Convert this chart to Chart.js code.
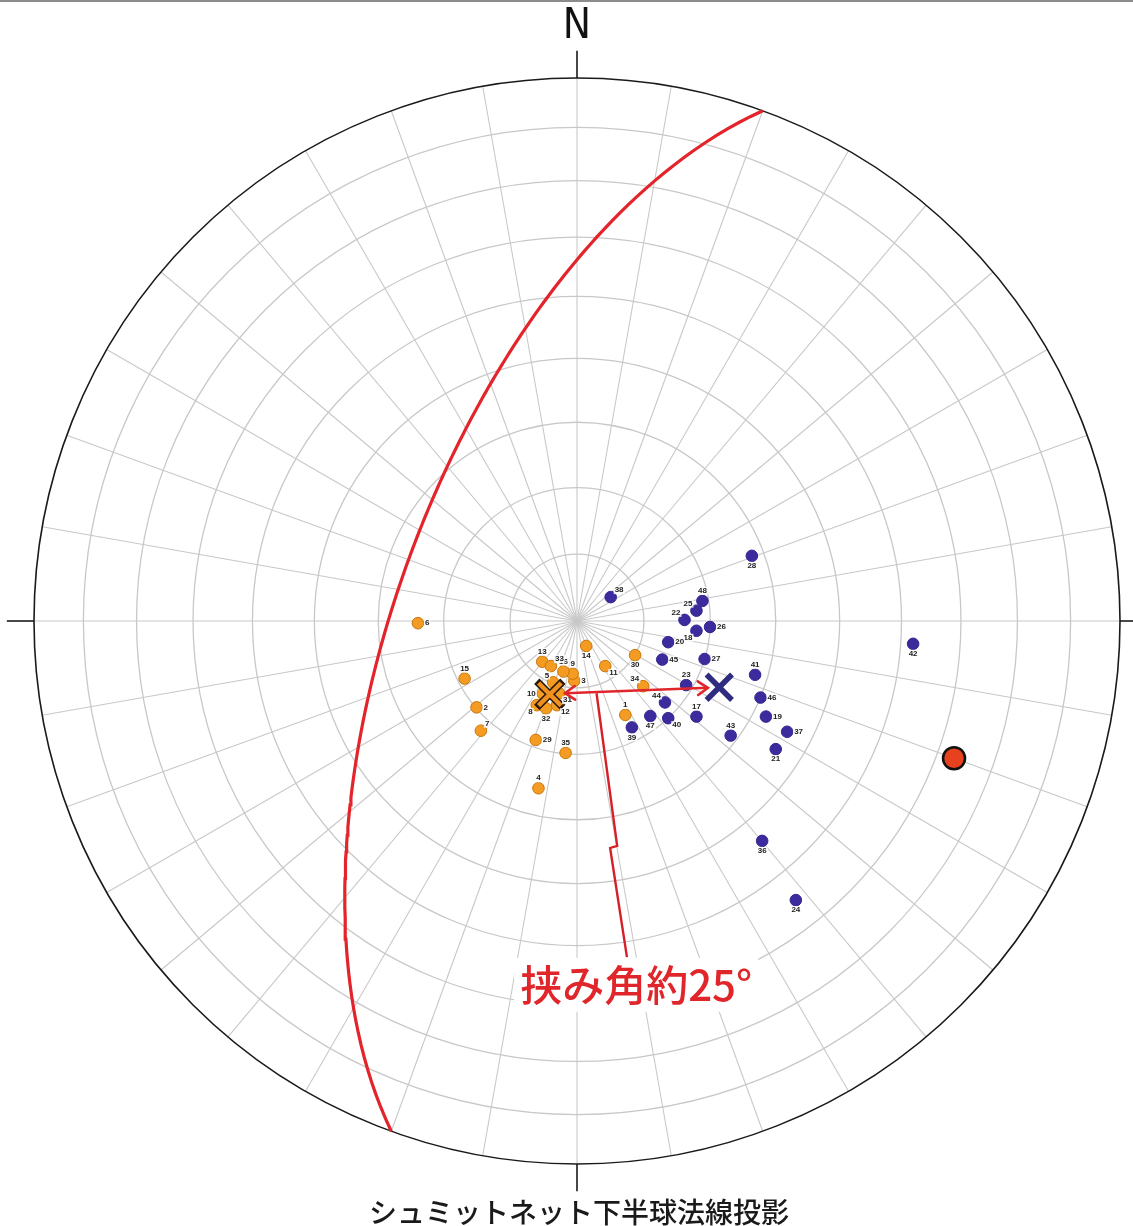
<!DOCTYPE html>
<html lang="ja">
<head>
<meta charset="utf-8">
<title>シュミットネット下半球法線投影</title>
<script src="https://cdn.jsdelivr.net/npm/chart.js@4.4.1/dist/chart.umd.min.js"></script>
<style>
  html, body { margin: 0; padding: 0; background: #fff; }
  #wrap { width: 1133px; height: 1226px; }
</style>
</head>
<body>
<div id="wrap"><canvas id="net" width="1133" height="1226"></canvas></div>
<script>
// 法線（極）の投影位置  x = 東, y = 北 （ネット半径 = 1）
const orangeIds = [1, 2, 3, 4, 5, 6, 7, 8, 9, 10, 11, 12, 13, 14, 15, 16, 29, 30, 31, 32, 33, 34, 35];
const orangeX = [0.089, -0.185, -0.005, -0.071, -0.044, -0.293, -0.177, -0.074, -0.008, -0.063, 0.052, -0.037,
                 -0.064, 0.017, -0.207, -0.025, -0.076, 0.107, -0.033, -0.057, -0.048, 0.122, -0.021];
const orangeY = [-0.173, -0.159, -0.110, -0.308, -0.113, -0.004, -0.202, -0.155, -0.097, -0.134, -0.083, -0.155,
                 -0.075, -0.046, -0.106, -0.093, -0.219, -0.063, -0.133, -0.161, -0.083, -0.120, -0.243];

const blueIds = [17, 18, 19, 20, 21, 22, 23, 24, 25, 26, 27, 28, 36, 37, 38, 39, 40, 41, 42, 43, 44, 45, 46, 47, 48];
const blueX = [0.220, 0.220, 0.348, 0.168, 0.366, 0.198, 0.201, 0.403, 0.220, 0.245, 0.235, 0.322, 0.341,
               0.387, 0.062, 0.101, 0.168, 0.328, 0.619, 0.283, 0.162, 0.157, 0.338, 0.135, 0.231];
const blueY = [-0.176, -0.018, -0.176, -0.039, -0.236, 0.002, -0.118, -0.514, 0.019, -0.011, -0.070, 0.120, -0.405,
               -0.204, 0.044, -0.196, -0.179, -0.099, -0.042, -0.211, -0.150, -0.071, -0.141, -0.175, 0.037];

// 平均方向（×印）
const orangeMean = [-0.050, -0.135];
const blueMean = [0.262, -0.122];

// 面の姿勢（傾斜方位 / 傾斜角）
const planeDipDir = 290;
const planeDip = 63;

// 挟み角の矢印と引出線
const arrowX = [-0.022, 0.241];
const arrowY = [-0.133, -0.123];
const leaderX = [0.036, 0.074, 0.061, 0.092];
const leaderY = [-0.133, -0.414, -0.418, -0.619];
const angleText = '挟み角約25°';
const anglePos = [0.109, -0.670];

const ringAngles = [10, 20, 30, 40, 50, 60, 70, 80];
const titleText = 'シュミットネット下半球法線投影';

// ラベルの置き場所（点の上下左右）
const orangeLabelSide = ['t', 'r', 'r', 't', 'tl', 'r', 'tr', 'bl', 't', 'l', 'br', 'br', 't', 'b', 't', 't',
                         'r', 'b', 'br', 'b', 'tr', 'tl', 't'];
const blueLabelSide = ['t', 'bl', 'r', 'r', 'b', 'tl', 't', 'b', 'tl', 'r', 'r', 'b', 'b', 'r', 'tr', 'b', 'br',
                       't', 'b', 't', 'tl', 'r', 'r', 'b', 't'];

const RAD = Math.PI / 180;

// 等積投影（下半球）
function project(trend, plunge) {
    const r = Math.SQRT2 * Math.sin((90 - plunge) * RAD / 2);
    return { x: r * Math.sin(trend * RAD), y: r * Math.cos(trend * RAD) };
}

function greatCircle(dipDir, dip) {
    const pts = [];
    for (let b = -90; b <= 90; b++) {
        const app = Math.atan(Math.tan(dip * RAD) * Math.cos(b * RAD)) / RAD;
        pts.push(project(dipDir + b, app));
    }
    return pts;
}

const toPoints = (xs, ys) => xs.map((v, i) => ({ x: v, y: ys[i] }));
const pole = project(planeDipDir - 180, 90 - planeDip);

// ネットの格子
const netGrid = {
    id: 'netGrid',
    beforeDatasetsDraw(chart) {
        const { ctx, scales: { x, y } } = chart;
        const cx = x.getPixelForValue(0), cy = y.getPixelForValue(0);
        const unit = x.getPixelForValue(1) - cx;
        ctx.save();
        ctx.strokeStyle = '#c8c8c8';
        ctx.lineWidth = 1.3;
        ringAngles.forEach(a => {
            ctx.beginPath();
            ctx.arc(cx, cy, Math.SQRT2 * Math.sin(a * RAD / 2) * unit, 0, 2 * Math.PI);
            ctx.stroke();
        });
        ctx.lineWidth = 1.1;
        for (let az = 0; az < 360; az += 10) {
            ctx.beginPath();
            ctx.moveTo(cx, cy);
            ctx.lineTo(cx + Math.sin(az * RAD) * unit, cy - Math.cos(az * RAD) * unit);
            ctx.stroke();
        }
        // 外周と方位の目盛
        ctx.strokeStyle = '#1a1a1a';
        ctx.lineWidth = 1.6;
        ctx.beginPath();
        ctx.arc(cx, cy, unit, 0, 2 * Math.PI);
        ctx.stroke();
        [0, 90, 180, 270].forEach(az => {
            ctx.beginPath();
            ctx.moveTo(cx + Math.sin(az * RAD) * unit, cy - Math.cos(az * RAD) * unit);
            ctx.lineTo(cx + Math.sin(az * RAD) * unit * 1.05, cy - Math.cos(az * RAD) * unit * 1.05);
            ctx.stroke();
        });
        ctx.fillStyle = '#111';
        ctx.font = '42px "Liberation Sans Narrow", "DejaVu Sans Condensed", sans-serif';
        ctx.textAlign = 'center';
        ctx.textBaseline = 'alphabetic';
        ctx.fillText('N', cx, y.getPixelForValue(1) - 40);
        ctx.restore();
    }
};

// 点番号・矢じり・注記
const overlay = {
    id: 'overlay',
    afterDatasetsDraw(chart) {
        const { ctx, scales: { x, y } } = chart;
        ctx.save();
        ctx.font = 'bold 8px "Liberation Sans", Arial, sans-serif';
        ctx.textBaseline = 'middle';
        const drawLabels = (ids, xs, ys, sides) => {
            ids.forEach((id, i) => {
                const px = x.getPixelForValue(xs[i]), py = y.getPixelForValue(ys[i]);
                const s = sides[i];
                let dx = 0, dy = 0, align = 'center';
                if (s === 'r') { dx = 7; align = 'left'; }
                if (s === 'l') { dx = -7; align = 'right'; }
                if (s === 't') dy = -10;
                if (s === 'b') dy = 10;
                if (s === 'tr') { dx = 4; dy = -7; align = 'left'; }
                if (s === 'tl') { dx = -4; dy = -7; align = 'right'; }
                if (s === 'br') { dx = 4; dy = 7; align = 'left'; }
                if (s === 'bl') { dx = -4; dy = 7; align = 'right'; }
                const t = String(id);
                const w = ctx.measureText(t).width;
                let lx = px + dx;
                if (align === 'center') lx -= w / 2;
                if (align === 'right') lx -= w;
                ctx.fillStyle = 'rgba(255,255,255,0.85)';
                ctx.fillRect(lx - 1, py + dy - 4, w + 2, 8);
                ctx.fillStyle = '#222';
                ctx.textAlign = 'left';
                ctx.fillText(t, lx, py + dy);
            });
        };
        drawLabels(orangeIds, orangeX, orangeY, orangeLabelSide);
        drawLabels(blueIds, blueX, blueY, blueLabelSide);

        // 矢じり（両端）
        const p0 = { x: x.getPixelForValue(arrowX[0]), y: y.getPixelForValue(arrowY[0]) };
        const p1 = { x: x.getPixelForValue(arrowX[1]), y: y.getPixelForValue(arrowY[1]) };
        const head = (tip, from) => {
            const ang = Math.atan2(tip.y - from.y, tip.x - from.x);
            ctx.beginPath();
            ctx.moveTo(tip.x - 12 * Math.cos(ang - 0.6), tip.y - 12 * Math.sin(ang - 0.6));
            ctx.lineTo(tip.x, tip.y);
            ctx.lineTo(tip.x - 12 * Math.cos(ang + 0.6), tip.y - 12 * Math.sin(ang + 0.6));
            ctx.stroke();
        };
        ctx.strokeStyle = '#e0262b';
        ctx.lineWidth = 2.6;
        ctx.lineCap = 'round';
        ctx.lineJoin = 'miter';
        head(p1, p0);
        head(p0, p1);

        // 挟み角の注記
        const ax = x.getPixelForValue(anglePos[0]), ay = y.getPixelForValue(anglePos[1]);
        ctx.fillStyle = '#fff';
        ctx.fillRect(ax - 122, ay - 27, 244, 54);
        ctx.fillStyle = '#e0262b';
        ctx.font = '500 42px "Noto Sans CJK JP", sans-serif';
        ctx.textAlign = 'center';
        ctx.textBaseline = 'middle';
        ctx.fillText(angleText, ax, ay);
        ctx.restore();
    },
    afterDraw(chart) {
        const { ctx, scales: { x, y } } = chart;
        ctx.save();
        ctx.fillStyle = '#8c8c8c';
        ctx.fillRect(0, 0, chart.width, 2);
        ctx.fillStyle = '#1a1a1a';
        ctx.font = '500 28px "Noto Sans CJK JP", sans-serif';
        ctx.textAlign = 'center';
        ctx.textBaseline = 'middle';
        ctx.fillText(titleText, x.getPixelForValue(0) + 2, y.getPixelForValue(-1) + 48);
        ctx.restore();
    }
};

new Chart(document.getElementById('net'), {
    type: 'scatter',
    data: {
        datasets: [
            {
                label: '矢印',
                data: toPoints(arrowX, arrowY),
                showLine: true, pointRadius: 0,
                borderColor: '#e0262b', borderWidth: 2.6,
                order: 1
            },
            {
                label: '引出線',
                data: toPoints(leaderX, leaderY),
                showLine: true, pointRadius: 0,
                borderColor: '#d62027', borderWidth: 2.4,
                order: 1
            },
            {
                label: '平均（青）',
                data: [{ x: blueMean[0], y: blueMean[1] }],
                pointStyle: 'crossRot', pointRadius: 18,
                borderColor: '#2e2b80', pointBorderWidth: 5.5,
                order: 3
            },
            {
                label: '平均（橙）',
                data: [{ x: orangeMean[0], y: orangeMean[1] }],
                pointStyle: 'crossRot', pointRadius: 16,
                borderColor: '#f0901e', pointBorderWidth: 4.5,
                order: 3
            },
            {
                label: '平均（橙）縁',
                data: [{ x: orangeMean[0], y: orangeMean[1] }],
                pointStyle: 'crossRot', pointRadius: 18.5,
                borderColor: '#2a1a0a', pointBorderWidth: 7.5,
                order: 4
            },
            {
                label: '面の極',
                data: [pole],
                pointRadius: 11, pointBorderWidth: 2.5,
                backgroundColor: '#e8411f', borderColor: '#111',
                order: 5
            },
            {
                label: '青',
                data: toPoints(blueX, blueY),
                pointRadius: 5.8, pointBorderWidth: 1,
                backgroundColor: '#3b2b9c', borderColor: '#33258f',
                order: 6
            },
            {
                label: '橙',
                data: toPoints(orangeX, orangeY),
                pointRadius: 5.8, pointBorderWidth: 1,
                backgroundColor: '#f39b22', borderColor: '#c97608',
                order: 6
            },
            {
                label: '大円',
                data: greatCircle(planeDipDir, planeDip),
                showLine: true, pointRadius: 0,
                borderColor: '#e3242b', borderWidth: 3.2,
                order: 8
            }
        ]
    },
    options: {
        responsive: false,
        animation: false,
        devicePixelRatio: 1,
        events: [],
        layout: { autoPadding: false, padding: { left: 34, right: 13, top: 78, bottom: 62 } },
        elements: { line: { tension: 0 } },
        datasets: { scatter: { clip: false } },
        scales: {
            x: { type: 'linear', min: -1, max: 1, display: false },
            y: { type: 'linear', min: -1, max: 1, display: false }
        },
        plugins: {
            legend: { display: false },
            tooltip: { enabled: false }
        }
    },
    plugins: [netGrid, overlay]
});
</script>
</body>
</html>
